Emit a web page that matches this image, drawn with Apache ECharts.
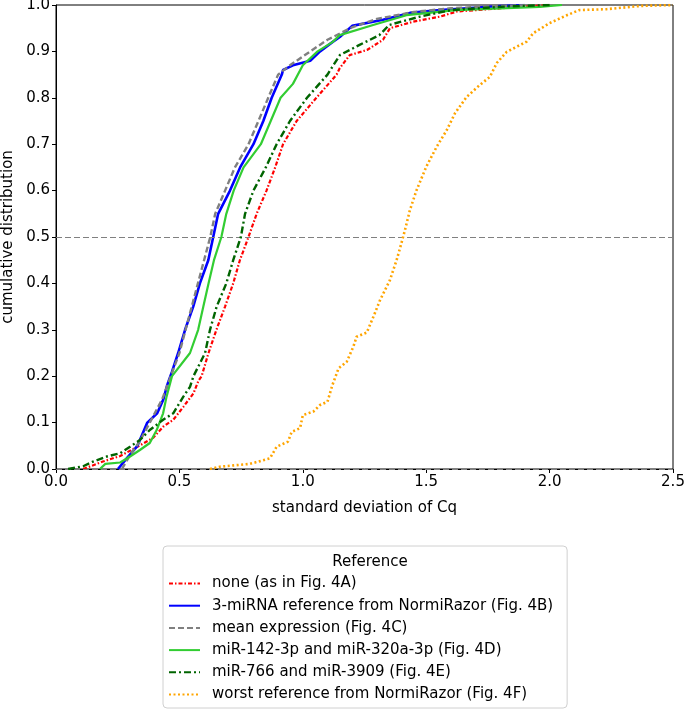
<!DOCTYPE html>
<html>
<head>
<meta charset="utf-8">
<script src="https://cdn.jsdelivr.net/npm/echarts@6/dist/echarts.min.js"></script>
<style>html,body{margin:0;padding:0;background:#fff}#c{width:685px;height:710px}</style>
</head>
<body>
<div id="c"></div>
<script>
var seriesNames = [
  'none (as in Fig. 4A)',
  '3-miRNA reference from NormiRazor (Fig. 4B)',
  'mean expression (Fig. 4C)',
  'miR-142-3p and miR-320a-3p (Fig. 4D)',
  'miR-766 and miR-3909 (Fig. 4E)',
  'worst reference from NormiRazor (Fig. 4F)'
];
var xTicks = [0, 0.5, 1.0, 1.5, 2.0, 2.5];
var yTicks = [0, 0.1, 0.2, 0.3, 0.4, 0.5, 0.6, 0.7, 0.8, 0.9, 1.0];

var noneData = [[0.11,0],[0.19,0.016],[0.26,0.028],[0.33,0.048],[0.393,0.067],[0.434,0.091],[0.475,0.106],[0.516,0.134],[0.557,0.163],[0.577,0.19],[0.59,0.2],[0.618,0.25],[0.65,0.3],[0.685,0.35],[0.718,0.4],[0.745,0.45],[0.78,0.5],[0.813,0.55],[0.853,0.6],[0.888,0.65],[0.92,0.7],[0.975,0.75],[1.055,0.8],[1.137,0.85],[1.15,0.864],[1.19,0.892],[1.26,0.903],[1.325,0.925],[1.353,0.95],[1.447,0.964],[1.556,0.975],[1.625,0.986],[1.83,0.994],[2.0,1.0]];
var normiData = [[0.251,0],[0.29,0.025],[0.33,0.05],[0.37,0.1],[0.41,0.12],[0.435,0.15],[0.45,0.18],[0.47,0.21],[0.495,0.25],[0.523,0.3],[0.556,0.35],[0.583,0.4],[0.617,0.45],[0.637,0.5],[0.657,0.55],[0.705,0.6],[0.746,0.65],[0.8,0.7],[0.84,0.75],[0.874,0.8],[0.915,0.85],[0.92,0.86],[0.96,0.87],[1.03,0.88],[1.07,0.9],[1.12,0.92],[1.15,0.931],[1.2,0.955],[1.325,0.968],[1.434,0.983],[1.556,0.989],[1.8,0.998],[1.9,1.0]];
var meanData = [[0.267,0],[0.3,0.03],[0.34,0.06],[0.38,0.1],[0.43,0.15],[0.465,0.2],[0.5,0.25],[0.525,0.3],[0.55,0.35],[0.575,0.4],[0.6,0.45],[0.625,0.5],[0.645,0.55],[0.685,0.6],[0.725,0.65],[0.78,0.7],[0.82,0.75],[0.86,0.8],[0.9,0.85],[0.948,0.87],[1.03,0.9],[1.1,0.925],[1.2,0.952],[1.3,0.97],[1.45,0.985],[1.6,0.993],[1.8,0.998],[1.95,1.0]];
var mir142Data = [[0.178,0],[0.2,0.011],[0.26,0.014],[0.3,0.027],[0.34,0.041],[0.38,0.056],[0.408,0.084],[0.434,0.12],[0.448,0.156],[0.47,0.2],[0.543,0.25],[0.576,0.3],[0.597,0.35],[0.618,0.4],[0.64,0.45],[0.67,0.5],[0.69,0.55],[0.72,0.6],[0.76,0.65],[0.83,0.7],[0.87,0.75],[0.91,0.8],[0.96,0.83],[1.0,0.87],[1.06,0.9],[1.12,0.92],[1.15,0.935],[1.285,0.957],[1.42,0.978],[1.62,0.989],[1.96,0.996],[2.05,1.0]];
var mir766Data = [[0.049,0],[0.11,0.006],[0.15,0.016],[0.206,0.027],[0.26,0.034],[0.3,0.048],[0.34,0.0625],[0.38,0.084],[0.434,0.106],[0.475,0.12],[0.516,0.156],[0.543,0.177],[0.557,0.2],[0.604,0.25],[0.624,0.3],[0.651,0.35],[0.69,0.4],[0.718,0.45],[0.749,0.5],[0.766,0.55],[0.8,0.6],[0.85,0.65],[0.894,0.7],[0.948,0.75],[1.017,0.8],[1.1,0.85],[1.15,0.892],[1.23,0.914],[1.31,0.935],[1.35,0.957],[1.475,0.975],[1.6,0.989],[1.83,0.997],[2.0,1.0]];
var worstData = [[0.624,0],[0.664,0.005],[0.786,0.011],[0.867,0.023],[0.894,0.048],[0.94,0.059],[0.955,0.08],[0.989,0.088],[1.0,0.116],[1.043,0.124],[1.07,0.138],[1.1,0.145],[1.12,0.181],[1.145,0.217],[1.178,0.231],[1.205,0.264],[1.218,0.285],[1.259,0.294],[1.286,0.328],[1.313,0.364],[1.353,0.407],[1.38,0.45],[1.394,0.476],[1.414,0.515],[1.434,0.558],[1.461,0.601],[1.5,0.651],[1.543,0.695],[1.583,0.73],[1.617,0.767],[1.664,0.802],[1.718,0.828],[1.758,0.845],[1.786,0.875],[1.826,0.899],[1.907,0.921],[1.933,0.939],[2.0,0.961],[2.07,0.978],[2.12,0.989],[2.23,0.991],[2.37,0.998],[2.5,1.0]];

var styles = [
  {color:'#ff0000', width:2.2, type:[4,2,1.5,2]},
  {color:'#0000ff', width:2.6, type:'solid'},
  {color:'#808080', width:2.4, type:[6,3]},
  {color:'#32cd32', width:2.2, type:'solid'},
  {color:'#006400', width:2.4, type:[7,3,2,3]},
  {color:'#ffa500', width:2.6, type:[2,2.5]}
];
var allData = [noneData, normiData, meanData, mir142Data, mir766Data, worstData];

var font = 'DejaVu Sans';
var fs = 15;
var series = allData.map(function(d, i){
  return {
    name: seriesNames[i], type:'line', data:d, symbol:'none', showSymbol:false,
    lineStyle:{color:styles[i].color, width:styles[i].width, type:styles[i].type},
    itemStyle:{color:styles[i].color}, z: 2 + i, animation:false
  };
});
series[0].markLine = {
  silent:true, symbol:'none', animation:false,
  lineStyle:{color:'#808080', type:[6,3], width:1.2},
  label:{show:false},
  data:[{yAxis:0.5},{yAxis:0}]
};

var chart = echarts.init(document.getElementById('c'), null, {renderer:'canvas'});
chart.setOption({
  animation:false,
  backgroundColor:'#fff',
  title:{text:'Reference', left:365, top:550, textAlign:'center',
    textStyle:{fontFamily:font, fontSize:fs, fontWeight:'normal', color:'#000'}, z:10},
  legend:{
    show:true, orient:'vertical', left:163, top:546, height:127,
    padding:[30, 14, 6, 5],
    itemWidth:31, itemHeight:14, itemGap:7.2,
    itemStyle:{opacity:0},
    backgroundColor:'#fff', borderColor:'#d0d0d0', borderWidth:1, borderRadius:4,
    textStyle:{fontFamily:font, fontSize:fs, color:'#000', padding:[0,0,0,7]},
    data:seriesNames
  },
  grid:{left:56, right:12, top:5, bottom:241, show:true, borderColor:'#000', borderWidth:1,
    containLabel:false, outerBoundsMode:'none'},
  xAxis:{
    type:'value', min:0, max:2.5, interval:0.5,
    name:'standard deviation of Cq', nameLocation:'middle', nameGap:32,
    nameTextStyle:{fontFamily:font, fontSize:fs, color:'#000'},
    axisLine:{show:true, lineStyle:{color:'#000', width:1}},
    axisTick:{show:true, length:4, inside:false, lineStyle:{color:'#000'}},
    axisLabel:{fontFamily:font, fontSize:fs, color:'#000', margin:6,
      formatter:function(v){return v.toFixed(1);}},
    splitLine:{show:false}
  },
  yAxis:{
    type:'value', min:0, max:1, interval:0.1,
    name:'cumulative distribution', nameLocation:'middle', nameGap:40,
    nameTextStyle:{fontFamily:font, fontSize:fs, color:'#000'},
    axisLine:{show:true, lineStyle:{color:'#000', width:1}},
    axisTick:{show:true, length:4, inside:false, lineStyle:{color:'#000'}},
    axisLabel:{fontFamily:font, fontSize:fs, color:'#000', margin:6,
      formatter:function(v){return v.toFixed(1);}},
    splitLine:{show:false}
  },
  series:series
});
</script>
</body>
</html>
